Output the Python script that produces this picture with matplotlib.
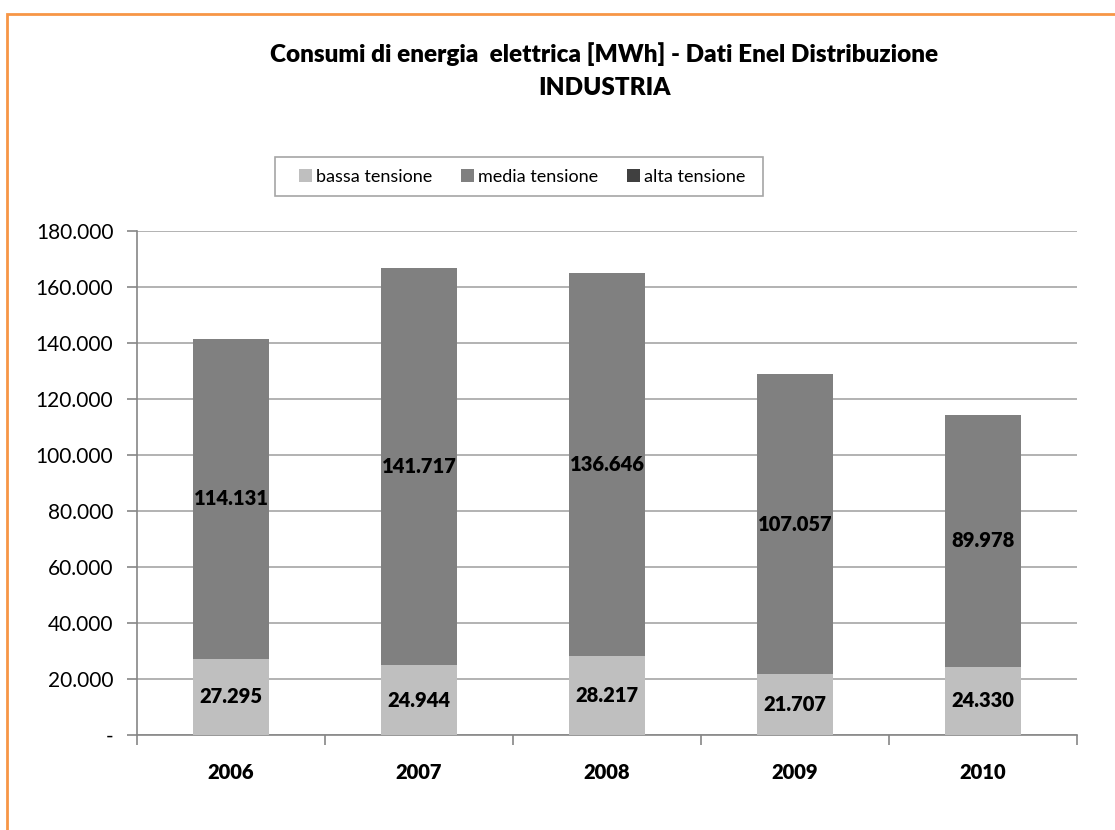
import matplotlib
matplotlib.use("Agg")
import matplotlib.pyplot as plt
from matplotlib.patches import Rectangle
from matplotlib.ticker import FuncFormatter, FixedLocator
import numpy as np

# Consumption data [MWh]
years = ["2006", "2007", "2008", "2009", "2010"]
bassa_tensione = [27295, 24944, 28217, 21707, 24330]
media_tensione = [114131, 141717, 136646, 107057, 89978]
alta_tensione = [0, 0, 0, 0, 0]
series_names = ["bassa tensione", "media tensione", "alta tensione"]
y_ticks = [0, 20000, 40000, 60000, 80000, 100000, 120000, 140000, 160000, 180000]

colors = ["#BFBFBF", "#808080", "#404040"]
FONT = "Lato"
BOLD = "heavy"
plt.rcParams["font.family"] = [FONT, "DejaVu Sans"]

W, H = 1115, 830
fig = plt.figure(figsize=(W / 100, H / 100), dpi=100)
fig.patch.set_facecolor("white")

# orange chart-area frame
fig.patches.append(Rectangle((7 / W, -0.2), 1.5, 1.2 - 14 / H, transform=fig.transFigure,
                             fill=False, edgecolor="#F79646", linewidth=2.0, zorder=0))

ax = fig.add_axes([137 / W, 1 - 735 / H, (1077 - 137) / W, (735 - 231) / H])

x = np.arange(len(years))
width = 0.404
bottom = np.zeros(len(years))
all_series = [bassa_tensione, media_tensione, alta_tensione]
bars = []
for vals, c, name in zip(all_series, colors, series_names):
    vals = np.array(vals, dtype=float)
    b = ax.bar(x, vals, width, bottom=bottom, color=c, label=name, linewidth=0, zorder=3)
    bars.append(b)
    for xi, v, b0 in zip(x, vals, bottom):
        if v > 0:
            ax.text(xi, b0 + v / 2, f"{int(v):,}".replace(",", "."), ha="center", va="center",
                    fontsize=14.5, fontweight=BOLD, color="black", zorder=4)
    bottom = bottom + vals

ax.set_xlim(-0.5, len(years) - 0.5)
ax.set_ylim(0, 180000)
ax.yaxis.set_major_locator(FixedLocator(y_ticks))
ax.yaxis.set_major_formatter(FuncFormatter(lambda v, p: "-" if v == 0 else f"{int(v):,}".replace(",", ".")))
ax.grid(axis="y", color="#A6A6A6", linewidth=1.2, zorder=0)
ax.set_axisbelow(True)

for s in ["top", "right"]:
    ax.spines[s].set_visible(False)
for s in ["left", "bottom"]:
    ax.spines[s].set_color("#868686")
    ax.spines[s].set_linewidth(1.2)

ax.set_xticks(x)
ax.set_xticklabels(years, fontsize=14.5, fontweight=BOLD)
ax.set_xticks(np.arange(-0.5, len(years)), minor=True)
ax.tick_params(axis="x", which="major", length=0, pad=20)
ax.tick_params(axis="x", which="minor", length=7, width=1.2, color="#868686", direction="out")
ax.tick_params(axis="y", length=7, width=1.2, color="#868686", labelsize=15, pad=10)

fig.text(604 / W, 1 - 54 / H, "Consumi di energia  elettrica [MWh] - Dati Enel Distribuzione",
         ha="center", va="center", fontsize=17.5, fontweight=BOLD)
fig.text(604 / W, 1 - 88 / H, "INDUSTRIA", ha="center", va="center", fontsize=17.5, fontweight=BOLD)

# legend box
fig.patches.append(Rectangle((275 / W, 1 - 196 / H), (763 - 275) / W, (196 - 157) / H,
                             transform=fig.transFigure, fill=True, facecolor="white",
                             edgecolor="#A6A6A6", linewidth=1.2, zorder=1))
leg = fig.legend(handles=bars, labels=series_names, loc="center", bbox_to_anchor=(522 / W, 1 - 176.5 / H),
                 ncol=3, frameon=False, fontsize=13, handlelength=0.72, handleheight=0.72,
                 handletextpad=0.22, columnspacing=1.6, borderpad=0, borderaxespad=0)

fig.savefig("out.png", dpi=100, facecolor="white")
